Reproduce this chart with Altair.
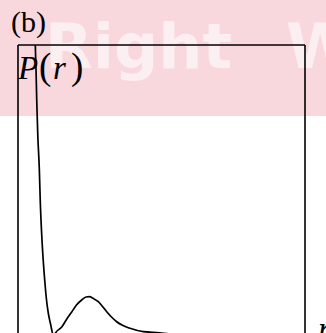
import altair as alt
import pandas as pd

# Radial probability curve P(r), arbitrary units
r_vals = [0.94, 0.99, 1.03, 1.07, 1.13, 1.22, 1.27, 1.35, 1.44, 1.54, 1.63, 1.73,
          1.86, 2.02, 2.23, 2.50, 2.77, 3.07, 3.34, 3.64, 3.89, 4.07, 4.31, 4.59,
          4.83, 5.07, 5.34, 5.64, 6.00, 6.40, 7.16, 8.11, 8.60, 9.30, 10.5, 12.5, 16.4]
p_vals = [3.45, 2.90, 2.65, 2.35, 2.00, 1.65, 1.35, 1.02, 0.75, 0.52, 0.35, 0.22,
          0.11, 0.00, 0.04, 0.08, 0.155, 0.23, 0.30, 0.35, 0.38, 0.383, 0.365, 0.333,
          0.285, 0.233, 0.18, 0.133, 0.095, 0.067, 0.033, 0.022, 0.012, 0.006, 0.002, 0.0005, 0.0]

r_domain = [0, 16.4]
p_domain = [0.02, 2.90]

curve = pd.DataFrame({"r": r_vals, "P": p_vals})
one = pd.DataFrame({"k": [0]})

W, H = 287, 288

band = alt.Chart(one).mark_rect(color="#f8d8dc").encode(
    x=alt.value(-18), x2=alt.value(308), y=alt.value(-45), y2=alt.value(71)
)


def watermark(txt, x):
    return alt.Chart(one).mark_text(
        text=txt, font="DejaVu Sans", fontWeight="bold", fontSize=62,
        color="white", opacity=0.6, align="left", baseline="alphabetic"
    ).encode(x=alt.value(x), y=alt.value(23))


wm_right = watermark("Right", 27)
wm_w = watermark("W", 268)

frame_left = alt.Chart(one).mark_rule(color="black", strokeWidth=1.6).encode(
    x=alt.value(0), y=alt.value(0), y2=alt.value(H + 5)
)
frame_top = alt.Chart(one).mark_rule(color="black", strokeWidth=1.6).encode(
    x=alt.value(0), x2=alt.value(W), y=alt.value(0)
)
frame_right = alt.Chart(one).mark_rule(color="black", strokeWidth=1.6).encode(
    x=alt.value(W), y=alt.value(0), y2=alt.value(H + 5)
)

line = alt.Chart(curve).mark_line(
    color="black", strokeWidth=1.7, interpolate="monotone", clip=True
).encode(
    x=alt.X("r:Q", scale=alt.Scale(domain=r_domain, nice=False, zero=False), axis=None),
    y=alt.Y("P:Q", scale=alt.Scale(domain=p_domain, nice=False, zero=False), axis=None),
    order="r:Q",
)


def label(txt, x, y, size, italic=False):
    return alt.Chart(one).mark_text(
        text=txt, font="Liberation Serif", fontSize=size,
        fontStyle="italic" if italic else "normal",
        color="black", align="left", baseline="alphabetic"
    ).encode(x=alt.value(x), y=alt.value(y))


panel = label("(b)", -7, -13, 30)
p_lab = label("P", 0, 34, 33, italic=True)
lpar = label("(", 21, 34, 37)
r_lab = label("r", 35, 34, 33, italic=True)
rpar = label(")", 53, 34, 37)
x_lab = label("r", 300, 295, 33, italic=True)

chart = alt.layer(
    band, wm_right, wm_w, line, frame_left, frame_top, frame_right,
    panel, p_lab, lpar, r_lab, rpar, x_lab
).properties(
    width=W, height=H,
    autosize=alt.AutoSizeParams(type="none"),
    padding={"left": 18, "top": 45, "right": 21, "bottom": 0},
    background="white",
).configure_view(stroke=None)

chart.save("out.html", embed_options={"renderer": "svg", "actions": False})
